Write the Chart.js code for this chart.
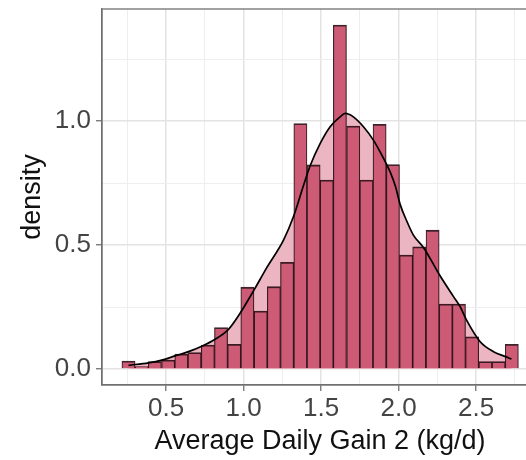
<!DOCTYPE html>
<html><head><meta charset="utf-8">
<script src="https://cdn.jsdelivr.net/npm/chart.js@4.4.0/dist/chart.umd.min.js"></script>
<style>html,body{margin:0;padding:0;overflow:hidden;background:#fff;width:526px;height:460px}canvas{display:block}</style>
</head><body>
<canvas id="c" width="545" height="460" style="width:545px;height:460px"></canvas>
<script>
// Histogram bins (centres, kg/d) and density heights
const binCenters = [0.257,0.342,0.427,0.513,0.598,0.683,0.769,0.854,0.939,1.024,1.110,1.195,1.280,1.366,1.451,1.536,1.621,1.707,1.792,1.877,1.963,2.048,2.133,2.219,2.304,2.389,2.474,2.560,2.645,2.730];
const binDensity = [0.032,0.010,0.030,0.036,0.060,0.066,0.097,0.167,0.100,0.330,0.234,0.332,0.430,0.990,0.823,0.762,1.387,0.980,0.762,0.987,0.825,0.460,0.493,0.560,0.262,0.262,0.130,0.030,0.030,0.100];
// Kernel density curve
const curveX = [0.257,0.386,0.472,0.558,0.644,0.730,0.816,0.902,0.977,1.068,1.150,1.257,1.321,1.386,1.429,1.494,1.558,1.623,1.655,1.708,1.773,1.837,1.902,1.945,1.980,2.009,2.050,2.095,2.160,2.268,2.354,2.397,2.440,2.526,2.612,2.698,2.728];
const curveY = [0.015,0.025,0.036,0.053,0.070,0.092,0.120,0.160,0.225,0.320,0.410,0.520,0.614,0.740,0.820,0.910,0.977,1.017,1.031,1.017,0.977,0.923,0.850,0.795,0.735,0.665,0.600,0.540,0.490,0.375,0.292,0.251,0.195,0.110,0.070,0.048,0.040];
const xTicks = [0.25,0.5,0.75,1.0,1.25,1.5,1.75,2.0,2.25,2.5,2.75];
const yTicks = [0,0.25,0.5,0.75,1.0,1.25];
const xLabel = 'Average Daily Gain 2 (kg/d)';
const yLabel = 'density';

const isMajor = v => Math.abs(v*2 - Math.round(v*2)) < 1e-6;
const bars = binCenters.map((x,i)=>({x, y: binDensity[i]}));
const curve = curveX.map((x,i)=>({x, y: curveY[i]}));
const FONT = "'Liberation Sans', Arial, Helvetica, sans-serif";
const axisGray = '#707070';

function gridOpts(){
  return {
    offset:false,
    color: c => (c.tick && isMajor(c.tick.value)) ? '#e3e3e3' : '#eeeeee',
    lineWidth: c => (c.tick && isMajor(c.tick.value)) ? 1.5 : 1.0,
    tickColor: c => (c.tick && isMajor(c.tick.value)) ? axisGray : 'rgba(0,0,0,0)',
    tickLength: 6,
    tickWidth: 1.3,
    drawTicks: true
  };
}

const borderPlugin = {
  id:'panelBorder',
  afterDraw(chart){
    const a = chart.chartArea, ctx = chart.ctx;
    ctx.save();
    ctx.strokeStyle = axisGray; ctx.lineWidth = 1.3;
    ctx.strokeRect(a.left, a.top, a.right-a.left, a.bottom-a.top);
    ctx.restore();
  }
};

new Chart(document.getElementById('c'), {
  type:'bar',
  data:{
    datasets:[
      {type:'line', data:curve, fill:'origin', backgroundColor:'#EBB5C1', borderWidth:0, pointRadius:0, cubicInterpolationMode:'monotone', order:3},
      {type:'bar', data:bars, backgroundColor:'#CD5B75', borderColor:'rgba(35,5,12,0.88)', borderWidth:{top:1.8,left:1.2,right:1.2,bottom:0}, borderSkipped:false, barPercentage:1, categoryPercentage:1, order:2},
      {type:'line', data:curve, fill:false, borderColor:'#000', borderWidth:1.7, pointRadius:0, cubicInterpolationMode:'monotone', order:1}
    ]
  },
  options:{
    responsive:false, devicePixelRatio:1, animation:false,
    layout:{padding:{top:9,right:7,left:0,bottom:0}},
    plugins:{legend:{display:false}, tooltip:{enabled:false}},
    scales:{
      x:{
        type:'linear', min:0.086, max:2.899, offset:false,
        afterBuildTicks: s => { s.ticks = xTicks.map(v=>({value:v})); },
        afterFit: s => { s.height = 75; s.paddingLeft = 0; s.paddingRight = 0; },
        ticks:{autoSkip:false, maxRotation:0, padding:2, color:'#444', font:{family:FONT,size:26},
          callback: v => isMajor(v) ? v.toFixed(1) : ''},
        grid:gridOpts(),
        border:{display:true,color:axisGray,width:1.3},
        title:{display:true, text:xLabel, color:'#111', font:{family:FONT,size:27}, padding:{top:0,bottom:2}}
      },
      y:{
        type:'linear', min:-0.0645, max:1.452,
        afterBuildTicks: s => { s.ticks = yTicks.map(v=>({value:v})); },
        afterFit: s => { s.width = 102; s.paddingTop = 0; s.paddingBottom = 0; },
        ticks:{autoSkip:false, padding:5, color:'#444', font:{family:FONT,size:26},
          callback: v => isMajor(v) ? v.toFixed(1) : ''},
        grid:gridOpts(),
        border:{display:true,color:axisGray,width:1.3},
        title:{display:true, text:yLabel, color:'#111', font:{family:FONT,size:27}, padding:{top:16,bottom:0}}
      }
    }
  },
  plugins:[borderPlugin]
});
</script>
</body></html>
